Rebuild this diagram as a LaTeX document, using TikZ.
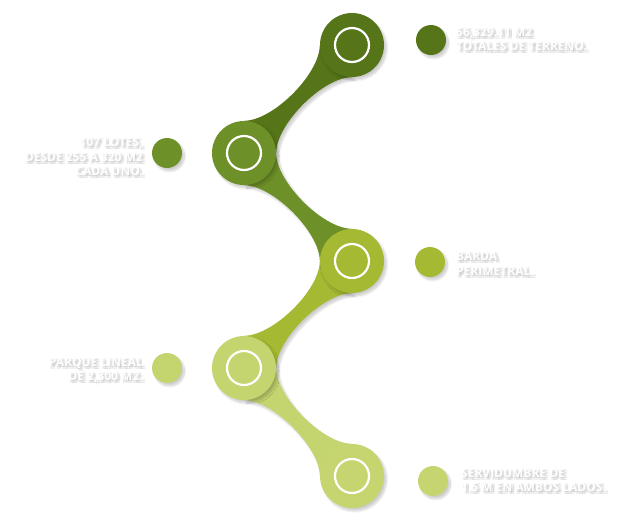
\documentclass[tikz,border=0pt]{standalone}
\usepackage{fontspec}
\setmainfont{Open Sans}
\usepackage{xcolor}
\usetikzlibrary{
    shapes,
    positioning,
    shadows,
    shadows.blur,
    backgrounds,
    calc
}
\definecolor{leafA}{HTML}{557518}
\definecolor{leafB}{HTML}{6E9028}
\definecolor{leafC}{HTML}{A6B932}
\definecolor{leafD}{HTML}{C4D46F}
\definecolor{leafE}{HTML}{C6D56F}

\begin{document}
\begin{tikzpicture}[x=1pt,y=-1pt,
    soft/.style={blur shadow={shadow xshift=2.5pt,shadow yshift=-3pt,shadow opacity=20,shadow blur steps=10}},
    hub/.style={circle,minimum size=64pt,inner sep=0pt,soft},
    dot/.style={circle,minimum size=30pt,inner sep=0pt,soft},
    ring/.style={draw=white,line width=2.2pt},
    tag/.style={font=\fontsize{12}{14.5}\selectfont\bfseries,text=white,inner sep=0pt},
    glow/.style={tag,text=black!50,opacity=0.14}]
    \useasboundingbox (0,0) rectangle (633,528);
    % big circles and the white rings
    \foreach \n/\x/\y/\c in {1/352/45/leafA,2/244/153/leafB,3/352/261/leafC,4/244/368/leafD,5/352/476/leafE}
        \node[hub,fill=\c] (c\n) at (\x,\y) {};
    \foreach \n in {1,...,5} \draw[ring] (c\n.center) circle (17);
    % small dots
    \foreach \n/\x/\y/\c in {1/431/40/leafA,2/167/153/leafB,3/430/262/leafC,4/167/368/leafD,5/433/481/leafE}
        \node[dot,fill=\c] (d\n) at (\x,\y) {};
    % links between the circles
    \begin{scope}[on background layer]
        \fill[leafA,soft] (c2.north) .. controls +(29,0) and +(0,29) .. (c1.west) -- (c1.south) .. controls +(-29,0) and +(0,-29) .. (c2.east) -- cycle;
        \fill[leafB,soft] (c2.east) .. controls +(0,29) and +(-29,0) .. (c3.north) -- (c3.west) .. controls +(0,-29) and +(29,0) .. (c2.south) -- cycle;
        \fill[leafC,soft] (c4.north) .. controls +(29,0) and +(0,29) .. (c3.west) -- (c3.south) .. controls +(-29,0) and +(0,-29) .. (c4.east) -- cycle;
        \fill[leafD,soft] (c4.east) .. controls +(0,29) and +(-29,0) .. (c5.north) -- (c5.west) .. controls +(0,-29) and +(29,0) .. (c4.south) -- cycle;
    \end{scope}
    % labels, white with a grey glow
    \foreach \n/\x/\y/\a/\al/\txt in {1/456/39/west/left/{56,329.11 M2\\TOTALES DE TERRENO.},
            2/143/157/east/right/{107 LOTES,\\DESDE 255 A 320 M2\\CADA UNO.},
            3/456/264/west/left/{BARDA\\PERIMETRAL.},
            4/143/370/east/right/{PARQUE LINEAL\\DE 2,300 M2.},
            5/461/480/west/left/{SERVIDUMBRE DE\\1.5 M EN AMBOS LADOS.}} {
        \foreach \k/\dx/\dy in {1/1/1,2/3/1,3/1/3,4/3/3}
            \node[glow,anchor=\a,align=\al] (g\n-\k) at (\x+\dx,\y+\dy) {\txt};
        \node[tag,anchor=\a,align=\al] (t\n) at (\x,\y) {\txt};
    }
\end{tikzpicture}
\end{document}
